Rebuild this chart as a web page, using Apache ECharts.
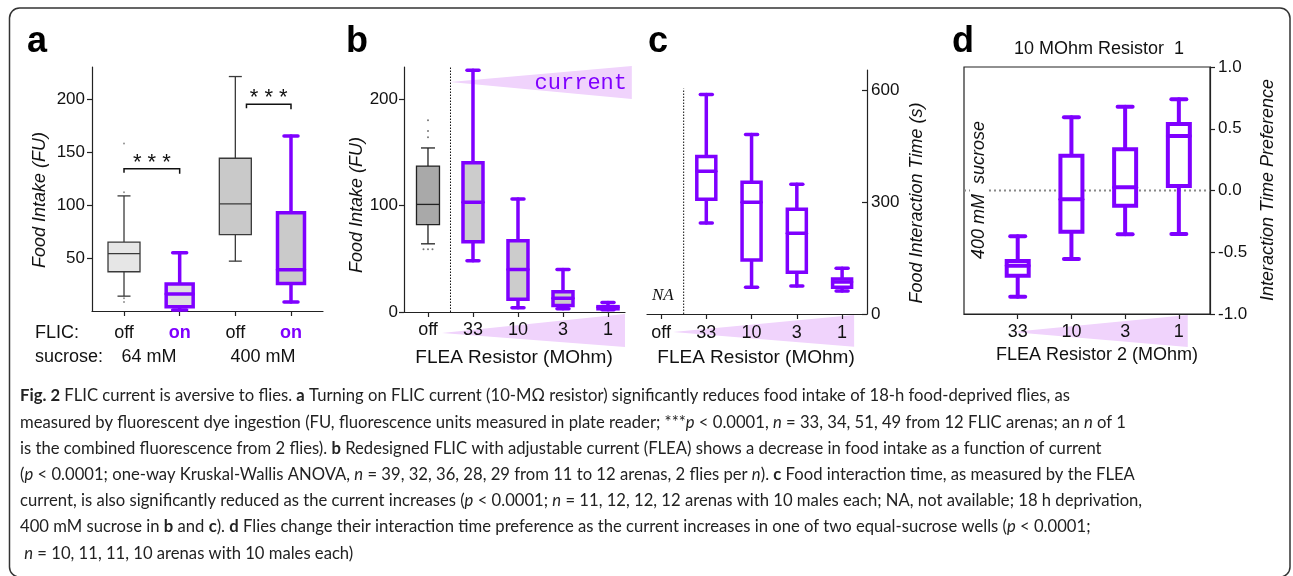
<!DOCTYPE html>
<html>
<head>
<meta charset="utf-8">
<script src="https://cdn.jsdelivr.net/npm/echarts@6/dist/echarts.min.js"></script>
<style>
  html, body { margin: 0; padding: 0; background: #fff; }
  #main { width: 1293px; height: 576px; }
</style>
</head>
<body>
<div id="main"></div>
<script>
// ---- data (box rows are [min, q1, median, q3, max]) ----
// a: food intake, FLIC off/on at 64 mM and 400 mM sucrose
const catsA = ['off', 'on', 'off', 'on'];
const boxA = [
  [14, 37, 54, 65, 108.5],
  [1, 4, 16, 25.5, 55],
  [47, 72, 101, 144, 221],
  [8.5, 26, 39, 92.5, 165]
];
const outA = [[0, 158], [0, 112], [0, 12], [0, 8.5]];
const sigA = [[0, 1, 134], [2.2, 3, 195]]; // from, to, height
const ticksA = [50, 100, 150, 200];

// b: food intake vs FLEA resistor
const catsB = ['off', '33', '10', '3', '1'];
const boxB = [
  [64, 82, 101, 137, 154],
  [48, 66, 103, 140, 227],
  [4, 12, 40, 67, 106],
  [3, 6, 13, 19, 40],
  [2, 3, 4.5, 5, 9]
];
const outB = [[0, 180], [0, 170], [0, 164], [-0.1, 59], [0, 59], [0.1, 59]];
const ticksB = [0, 100, 200];

// c: food interaction time (off = NA)
const catsC = ['off', '33', '10', '3', '1'];
const boxC = [
  null,
  [244, 308, 383, 423, 589],
  [72, 145, 300, 354, 482],
  [75, 112, 217, 281, 348],
  [62, 72, 86, 94, 123]
];
const ticksC = [0, 300, 600];

// d: interaction time preference
const catsD = ['33', '10', '3', '1'];
const boxD = [
  [-0.86, -0.69, -0.61, -0.57, -0.37],
  [-0.555, -0.333, -0.07, 0.282, 0.593],
  [-0.355, -0.123, 0.026, 0.333, 0.679],
  [-0.352, 0.036, 0.441, 0.538, 0.738]
];
const ticksD = [-1, -0.5, 0, 0.5, 1];

// ---- look ----
const PURPLE = '#7f00ff';
const LAVENDER = '#f0d3fc';
const INK = '#222';
const FONT = '"Liberation Sans", Arial, sans-serif';

const greyLight = { fill: '#e6e6e6', stroke: '#3a3a3a', lw: 1.3, w: 32, cap: 13, round: false };
const greyMid = { fill: '#c9c9c9', stroke: '#3a3a3a', lw: 1.3, w: 32, cap: 13, round: false };
const purpA1 = { fill: '#e0e0e0', stroke: PURPLE, lw: 3.5, w: 27, cap: 14, round: true };
const purpA2 = { fill: '#cacaca', stroke: PURPLE, lw: 3.5, w: 27, cap: 14, round: true };
const stylesA = [greyLight, purpA1, greyMid, purpA2];

const greyDark = { fill: '#a9a9a9', stroke: '#222', lw: 1.3, w: 23, cap: 14, round: false };
const purpB = { fill: '#cccccc', stroke: PURPLE, lw: 3.5, w: 20, cap: 12, round: true };
const stylesB = [greyDark, purpB, purpB, purpB, purpB];

const purpC = { fill: '#ffffff', stroke: PURPLE, lw: 3.5, w: 19, cap: 12, round: true };
const stylesC = [purpC, purpC, purpC, purpC, purpC];

const purpD = { fill: '#ffffff', stroke: PURPLE, lw: 4, w: 22, cap: 15, round: true };
const stylesD = [purpD, purpD, purpD, purpD];

// wedges: [tipX, tipY, endX, endTopY, endBottomY] in axis units
const wedgeB = [[0.49, 216, 4.53, 231, 200], [0.31, -19.7, 4.378, -1.9, -32.9]];
const wedgeC = [[0.265, -48, 4.265, -2.7, -88]];
const wedgeD = [[-0.11, -1.146, 3.166, -1.008, -1.267]];

const chart = echarts.init(document.getElementById('main'), null, { renderer: 'canvas' });

function boxRenderer(styles) {
  return function (params, api) {
    const st = styles[params.dataIndex];
    const x = api.value(0);
    const p = v => api.coord([x, v]);
    const lo = p(api.value(1)), q1 = p(api.value(2)), md = p(api.value(3)), q3 = p(api.value(4)), hi = p(api.value(5));
    const cx = lo[0], hw = st.w / 2, cw = st.cap / 2;
    const ls = { stroke: st.stroke, lineWidth: st.lw, lineCap: st.round ? 'round' : 'butt' };
    return {
      type: 'group',
      children: [
        { type: 'line', shape: { x1: cx, y1: hi[1], x2: cx, y2: q3[1] }, style: ls },
        { type: 'line', shape: { x1: cx, y1: q1[1], x2: cx, y2: lo[1] }, style: ls },
        { type: 'line', shape: { x1: cx - cw, y1: hi[1], x2: cx + cw, y2: hi[1] }, style: ls },
        { type: 'line', shape: { x1: cx - cw, y1: lo[1], x2: cx + cw, y2: lo[1] }, style: ls },
        { type: 'rect', shape: { x: cx - hw, y: q3[1], width: st.w, height: q1[1] - q3[1] },
          style: { fill: st.fill, stroke: st.stroke, lineWidth: st.lw } },
        { type: 'line', shape: { x1: cx - hw, y1: md[1], x2: cx + hw, y2: md[1] }, style: ls }
      ]
    };
  };
}

function boxSeries(grid, rows, styles) {
  const data = [];
  rows.forEach((r, i) => { if (r) data.push([i].concat(r)); });
  const st = styles.filter((s, i) => rows[i]);
  return {
    type: 'custom', xAxisIndex: grid, yAxisIndex: grid, clip: false, z: 3,
    data: data, renderItem: boxRenderer(st)
  };
}

function wedgeSeries(grid, rows) {
  return {
    type: 'custom', xAxisIndex: grid, yAxisIndex: grid, clip: false, z: -1, silent: true,
    data: rows,
    renderItem: function (params, api) {
      const tip = api.coord([api.value(0), api.value(1)]);
      const a = api.coord([api.value(2), api.value(3)]);
      const b = api.coord([api.value(2), api.value(4)]);
      return { type: 'polygon', shape: { points: [tip, a, b] }, style: { fill: LAVENDER } };
    }
  };
}

function vlineSeries(grid, rows) {
  return {
    type: 'custom', xAxisIndex: grid, yAxisIndex: grid, clip: false, z: 1, silent: true,
    data: rows,
    renderItem: function (params, api) {
      const a = api.coord([api.value(0), api.value(1)]);
      const b = api.coord([api.value(0), api.value(2)]);
      return { type: 'line', shape: { x1: a[0], y1: a[1], x2: b[0], y2: b[1] },
        style: { stroke: '#111', lineWidth: 1, lineDash: [1.5, 1.5] } };
    }
  };
}

function xAxisFor(grid, cats, min, max, margin, rich) {
  const idx = cats.map((c, i) => i);
  return {
    type: 'value', gridIndex: grid, min: min, max: max,
    axisLine: { show: true, onZero: false, lineStyle: { color: INK, width: 1.2 } },
    axisTick: { show: true, customValues: idx, length: 5, lineStyle: { color: INK, width: 1.2 } },
    axisLabel: {
      customValues: idx, margin: margin, color: '#111', fontSize: 18, fontFamily: FONT,
      formatter: rich ? (v => rich(Math.round(v))) : (v => cats[Math.round(v)]),
      rich: { on: { color: PURPLE, fontWeight: 'bold', fontSize: 18, fontFamily: FONT } }
    },
    splitLine: { show: false }
  };
}

function yAxisFor(grid, ticks, min, max, opts) {
  return Object.assign({
    type: 'value', gridIndex: grid, min: min, max: max,
    axisLine: { show: true, onZero: false, lineStyle: { color: INK, width: 1.2 } },
    axisTick: { show: true, customValues: ticks, length: 5, inside: !!opts.inside, lineStyle: { color: INK, width: 1.2 } },
    axisLabel: {
      customValues: ticks, margin: opts.margin, color: '#111', fontSize: 17, fontFamily: FONT,
      formatter: opts.fmt || (v => String(v))
    },
    splitLine: { show: false }
  }, opts.extra || {});
}

// ---- caption ----
const captionLines = [
  '{b|Fig. 2} FLIC current is aversive to flies. {b|a} Turning on FLIC current (10-MΩ resistor) significantly reduces food intake of 18-h food-deprived flies, as',
  'measured by fluorescent dye ingestion (FU, fluorescence units measured in plate reader; ***{i|p} < 0.0001, {i|n} = 33, 34, 51, 49 from 12 FLIC arenas; an {i|n} of 1',
  'is the combined fluorescence from 2 flies). {b|b} Redesigned FLIC with adjustable current (FLEA) shows a decrease in food intake as a function of current',
  '({i|p} < 0.0001; one-way Kruskal-Wallis ANOVA, {i|n} = 39, 32, 36, 28, 29 from 11 to 12 arenas, 2 flies per {i|n}). {b|c} Food interaction time, as measured by the FLEA',
  'current, is also significantly reduced as the current increases ({i|p} < 0.0001; {i|n} = 11, 12, 12, 12 arenas with 10 males each; NA, not available; 18 h deprivation,',
  '400 mM sucrose in {b|b} and {b|c}). {b|d} Flies change their interaction time preference as the current increases in one of two equal-sucrose wells ({i|p} < 0.0001;',
  ' {i|n} = 10, 11, 11, 10 arenas with 10 males each)'
];
const CAP_FONT = 'Lato, "Open Sans", sans-serif';
const CAP_SIZE = 17;
const mctx = document.createElement('canvas').getContext('2d');
mctx.font = CAP_SIZE + 'px ' + CAP_FONT;
const plain = s => s.replace(/\{[bi]\|([^}]*)\}/g, '$1');
const capScale = 1123 / mctx.measureText(plain(captionLines[4])).width;

const capRich = {
  b: { fontWeight: 'bold', fontSize: CAP_SIZE, fontFamily: CAP_FONT, fill: '#222' },
  i: { fontStyle: 'italic', fontSize: CAP_SIZE, fontFamily: CAP_FONT, fill: '#222' }
};
const captionGraphics = captionLines.map((t, k) => ({
  type: 'text', x: 20, y: 396 + k * 26.2, scaleX: capScale, z: 100,
  style: { text: t, fontSize: CAP_SIZE, fontFamily: CAP_FONT, fill: '#222', verticalAlign: 'middle', rich: capRich }
}));

function label(text, x, y, o) {
  return {
    type: 'text', x: x, y: y, z: 100, rotation: (o && o.rot) || 0,
    style: Object.assign({ text: text, fontSize: 18, fontFamily: FONT, fill: '#111', align: 'center', verticalAlign: 'middle' }, o && o.style)
  };
}
const ROT = Math.PI / 2;
const yNameStyle = { fontStyle: 'italic', fontSize: 18 };

const option = {
  animation: false,
  backgroundColor: '#fff',
  grid: [
    { left: 92, top: 67, width: 231, height: 244 },
    { left: 404, top: 67, width: 221, height: 245 },
    { left: 647, top: 70, width: 220, height: 244 },
    { left: 964, top: 67, width: 246, height: 247, show: true, borderColor: INK, borderWidth: 1.2 }
  ],
  xAxis: [
    xAxisFor(0, catsA, -0.575, 3.575, 13, i => (i % 2 ? '{on|' + catsA[i] + '}' : catsA[i])),
    xAxisFor(1, catsB, -0.533, 4.378, 9),
    xAxisFor(2, catsC, -0.31, 4.55, 10),
    xAxisFor(3, catsD, -1, 3.58, 9)
  ],
  yAxis: [
    yAxisFor(0, ticksA, 0, 230, { margin: 7 }),
    yAxisFor(1, ticksB, 0, 230, { margin: 6 }),
    yAxisFor(2, ticksC, 0, 655, { margin: 4, inside: true, extra: { position: 'right' } }),
    yAxisFor(3, ticksD, -1, 1, { margin: 8, fmt: v => v.toFixed(1), extra: { position: 'right' } })
  ],
  series: [
    wedgeSeries(1, wedgeB),
    wedgeSeries(2, wedgeC),
    wedgeSeries(3, wedgeD),
    vlineSeries(1, [[0.5, 0, 230]]),
    vlineSeries(2, [[0.5, 0, 605]]),
    {
      // zero reference line in d
      type: 'custom', xAxisIndex: 3, yAxisIndex: 3, z: 1, silent: true,
      data: [[-1, 3.58, 0]],
      renderItem: function (params, api) {
        const a = api.coord([api.value(0), api.value(2)]);
        const b = api.coord([api.value(1), api.value(2)]);
        return { type: 'line', shape: { x1: a[0], y1: a[1], x2: b[0], y2: b[1] },
          style: { stroke: '#888', lineWidth: 2, lineDash: [2, 3] } };
      }
    },
    boxSeries(0, boxA, stylesA),
    boxSeries(1, boxB, stylesB),
    boxSeries(2, boxC, stylesC),
    boxSeries(3, boxD, stylesD),
    { type: 'scatter', xAxisIndex: 0, yAxisIndex: 0, data: outA, symbolSize: 2, itemStyle: { color: '#777' }, silent: true, z: 4 },
    { type: 'scatter', xAxisIndex: 1, yAxisIndex: 1, data: outB, symbolSize: 2, itemStyle: { color: '#555' }, silent: true, z: 4 },
    {
      // significance brackets in a
      type: 'custom', xAxisIndex: 0, yAxisIndex: 0, clip: false, z: 4, silent: true,
      data: sigA,
      renderItem: function (params, api) {
        const l = api.coord([api.value(0), api.value(2)]);
        const r = api.coord([api.value(1), api.value(2)]);
        return {
          type: 'group',
          children: [
            { type: 'polyline', shape: { points: [[l[0], l[1] + 4], l, r, [r[0], r[1] + 5]] },
              style: { stroke: '#111', lineWidth: 1.5, fill: null } },
            { type: 'text', x: (l[0] + r[0]) / 2, y: l[1] - 6,
              style: { text: '* * *', fontSize: 22, fontFamily: FONT, fill: '#111', align: 'center', verticalAlign: 'middle' } }
          ]
        };
      }
    }
  ],
  graphic: [
    { type: 'rect', z: 100, shape: { x: 9.5, y: 8, width: 1280.5, height: 569, r: 10 },
      style: { fill: null, stroke: '#333', lineWidth: 1.5 } },
    label('a', 27, 42, { style: { align: 'left', fontSize: 36, fontWeight: 'bold', fill: '#000' } }),
    label('b', 346, 42, { style: { align: 'left', fontSize: 36, fontWeight: 'bold', fill: '#000' } }),
    label('c', 648, 42, { style: { align: 'left', fontSize: 36, fontWeight: 'bold', fill: '#000' } }),
    label('d', 952, 42, { style: { align: 'left', fontSize: 36, fontWeight: 'bold', fill: '#000' } }),
    label('FLIC:', 35, 333, { style: { align: 'left' } }),
    label('sucrose:', 35, 357, { style: { align: 'left' } }),
    label('64 mM', 149, 357),
    label('400 mM', 263, 357),
    label('Food Intake (FU)', 40, 200, { rot: ROT, style: yNameStyle }),
    label('Food Intake (FU)', 357, 205, { rot: ROT, style: yNameStyle }),
    label('Food Interaction Time (s)', 917, 203, { rot: ROT, style: yNameStyle }),
    label('Interaction Time Preference', 1268, 190, { rot: ROT, style: yNameStyle }),
    label('400 mM  sucrose', 979, 190, { rot: ROT, style: { fontStyle: 'italic', fontSize: 18, backgroundColor: '#fff', padding: [0, 4] } }),
    label('NA', 652, 296, { style: { align: 'left', fontStyle: 'italic', fontSize: 17, fontFamily: '"Liberation Serif", serif' } }),
    label('current', 627, 83, { style: { align: 'right', fontSize: 22, fontFamily: '"Liberation Mono", monospace', fill: PURPLE } }),
    label('10 MOhm Resistor  1', 1099, 49),
    label('FLEA Resistor (MOhm)', 514, 358, { style: { fontSize: 19 } }),
    label('FLEA Resistor (MOhm)', 756, 358, { style: { fontSize: 19 } }),
    label('FLEA Resistor 2 (MOhm)', 1097, 355, { style: { fontSize: 18 } })
  ].concat(captionGraphics)
};

chart.setOption(option);
</script>
</body>
</html>
